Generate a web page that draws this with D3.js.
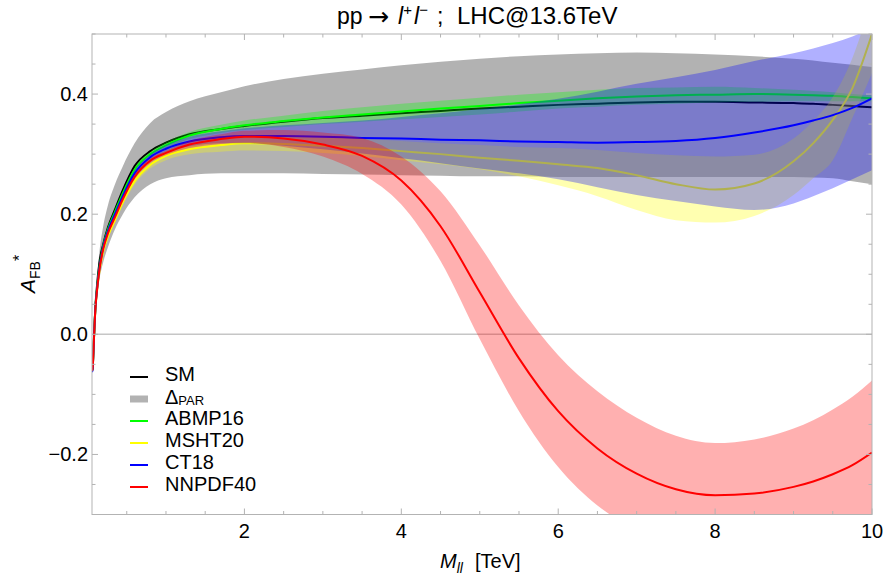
<!DOCTYPE html>
<html>
<head>
<meta charset="utf-8">
<script src="https://cdn.jsdelivr.net/npm/d3@7"></script>
<style>
  html, body { margin: 0; padding: 0; background: #fff; }
  svg { display: block; font-family: "Liberation Sans", Arial, Helvetica, sans-serif; }
</style>
</head>
<body>
<svg id="chart" width="895" height="576"></svg>
<script>
// Dilepton invariant mass grid [TeV]
const mass = [0.057, 0.064, 0.072, 0.083, 0.1, 0.12, 0.15, 0.2, 0.26, 0.35, 0.45, 0.6, 0.8, 1.0, 1.3, 1.7,
  2.0, 2.5, 3.0, 3.5, 4.0, 4.5, 5.0, 5.5, 6.0, 6.5, 7.0, 7.5, 8.0, 8.5, 9.0, 9.25, 9.5, 9.75, 10.0];

// Standard Model A_FB*
const smCentral = [-0.035, -0.060, -0.038, -0.002, 0.045, 0.080, 0.118, 0.150, 0.178, 0.208, 0.240, 0.280, 0.305, 0.319, 0.333, 0.342,
  0.347, 0.354, 0.360, 0.364, 0.368, 0.372, 0.376, 0.379, 0.382, 0.384, 0.386, 0.387, 0.387, 0.386, 0.385, 0.384, 0.382, 0.380, 0.378];
// Delta_PAR envelope
const parLow = [-0.035, -0.060, -0.040, -0.008, 0.036, 0.062, 0.090, 0.120, 0.145, 0.175, 0.200, 0.228, 0.250, 0.260, 0.265, 0.268,
  0.268, 0.268, 0.267, 0.266, 0.265, 0.264, 0.263, 0.263, 0.262, 0.262, 0.262, 0.262, 0.262, 0.262, 0.262, 0.261, 0.260, 0.255, 0.250];
const parHigh = [-0.035, -0.060, -0.036, 0.003, 0.055, 0.090, 0.135, 0.180, 0.215, 0.250, 0.280, 0.318, 0.352, 0.370, 0.388, 0.403,
  0.413, 0.425, 0.434, 0.441, 0.448, 0.454, 0.459, 0.463, 0.466, 0.468, 0.469, 0.468, 0.466, 0.463, 0.459, 0.456, 0.452, 0.449, 0.445];

// ABMP16
const abmpCentral = [-0.035, -0.060, -0.038, -0.003, 0.044, 0.075, 0.110, 0.147, 0.175, 0.204, 0.235, 0.274, 0.300, 0.315, 0.331, 0.342,
  0.348, 0.355, 0.361, 0.366, 0.371, 0.376, 0.380, 0.385, 0.389, 0.393, 0.396, 0.398, 0.399, 0.400, 0.399, 0.398, 0.397, 0.395, 0.393];
const abmpLow = [-0.035, -0.060, -0.039, -0.005, 0.041, 0.072, 0.107, 0.144, 0.172, 0.201, 0.232, 0.270, 0.296, 0.310, 0.325, 0.335,
  0.340, 0.345, 0.350, 0.354, 0.358, 0.362, 0.366, 0.371, 0.376, 0.379, 0.382, 0.384, 0.386, 0.387, 0.388, 0.388, 0.388, 0.388, 0.388];
const abmpHigh = [-0.035, -0.060, -0.037, -0.001, 0.047, 0.078, 0.113, 0.150, 0.178, 0.207, 0.238, 0.278, 0.304, 0.320, 0.337, 0.349,
  0.356, 0.364, 0.372, 0.378, 0.384, 0.389, 0.394, 0.399, 0.403, 0.407, 0.410, 0.411, 0.412, 0.410, 0.407, 0.405, 0.403, 0.400, 0.398];

// MSHT20
const mshtCentral = [-0.035, -0.060, -0.040, -0.006, 0.040, 0.070, 0.103, 0.138, 0.163, 0.190, 0.220, 0.255, 0.282, 0.297, 0.308, 0.315,
  0.318, 0.317, 0.314, 0.310, 0.305, 0.300, 0.294, 0.289, 0.283, 0.277, 0.265, 0.250, 0.241, 0.251, 0.288, 0.318, 0.357, 0.410, 0.500];
const mshtLow = [-0.035, -0.060, -0.041, -0.008, 0.037, 0.067, 0.100, 0.135, 0.160, 0.186, 0.215, 0.249, 0.276, 0.290, 0.300, 0.304,
  0.306, 0.305, 0.302, 0.297, 0.290, 0.283, 0.275, 0.263, 0.248, 0.230, 0.207, 0.190, 0.186, 0.197, 0.232, 0.260, 0.290, 0.360, 0.435];
const mshtHigh = [-0.035, -0.060, -0.039, -0.004, 0.043, 0.073, 0.106, 0.141, 0.166, 0.194, 0.225, 0.261, 0.288, 0.305, 0.317, 0.326,
  0.330, 0.330, 0.328, 0.325, 0.322, 0.318, 0.315, 0.312, 0.310, 0.307, 0.302, 0.298, 0.296, 0.299, 0.326, 0.355, 0.395, 0.460, 0.560];

// CT18
const ctCentral = [-0.035, -0.062, -0.040, -0.004, 0.043, 0.073, 0.108, 0.145, 0.172, 0.200, 0.230, 0.268, 0.295, 0.309, 0.321, 0.328,
  0.330, 0.330, 0.329, 0.327, 0.326, 0.324, 0.323, 0.321, 0.320, 0.319, 0.320, 0.322, 0.327, 0.336, 0.348, 0.356, 0.365, 0.377, 0.393];
const ctLow = [-0.035, -0.062, -0.041, -0.006, 0.040, 0.070, 0.105, 0.141, 0.168, 0.196, 0.225, 0.263, 0.290, 0.303, 0.313, 0.318,
  0.318, 0.314, 0.308, 0.301, 0.293, 0.285, 0.276, 0.268, 0.258, 0.245, 0.232, 0.222, 0.213, 0.207, 0.218, 0.230, 0.243, 0.258, 0.273];
const ctHigh = [-0.035, -0.062, -0.039, -0.002, 0.046, 0.076, 0.111, 0.149, 0.176, 0.204, 0.235, 0.273, 0.300, 0.315, 0.329, 0.338,
  0.343, 0.348, 0.352, 0.356, 0.362, 0.368, 0.375, 0.383, 0.392, 0.404, 0.417, 0.428, 0.440, 0.455, 0.468, 0.476, 0.485, 0.496, 0.510];

// NNPDF40
const nnpdfCentral = [-0.035, -0.060, -0.040, -0.005, 0.042, 0.072, 0.106, 0.142, 0.168, 0.195, 0.225, 0.262, 0.289, 0.302, 0.316, 0.325,
  0.329, 0.326, 0.316, 0.297, 0.256, 0.180, 0.070, -0.040, -0.128, -0.190, -0.232, -0.258, -0.268, -0.265, -0.254, -0.245, -0.233, -0.218, -0.197];
const nnpdfLow = [-0.035, -0.060, -0.041, -0.007, 0.039, 0.069, 0.103, 0.139, 0.165, 0.192, 0.221, 0.258, 0.285, 0.298, 0.310, 0.317,
  0.319, 0.312, 0.296, 0.267, 0.216, 0.122, -0.008, -0.128, -0.221, -0.285, -0.325, -0.347, -0.355, -0.355, -0.351, -0.347, -0.341, -0.332, -0.317];
const nnpdfHigh = [-0.035, -0.060, -0.039, -0.003, 0.045, 0.075, 0.109, 0.145, 0.171, 0.198, 0.229, 0.266, 0.293, 0.306, 0.322, 0.333,
  0.339, 0.340, 0.336, 0.327, 0.296, 0.238, 0.148, 0.048, -0.035, -0.095, -0.139, -0.169, -0.181, -0.175, -0.157, -0.143, -0.125, -0.104, -0.077];

// Axis ticks
const xMajorTicks = [2, 4, 6, 8, 10];
const xMinorTicks = [0.5, 1, 1.5, 2.5, 3, 3.5, 4.5, 5, 5.5, 6.5, 7, 7.5, 8.5, 9, 9.5];
const yMajorTicks = [-0.2, 0.0, 0.2, 0.4];
const yMinorTicks = [-0.3, -0.25, -0.15, -0.1, -0.05, 0.05, 0.1, 0.15, 0.25, 0.3, 0.35, 0.45, 0.5];
const yTickLabels = ["\u22120.2", "0.0", "0.2", "0.4"];

// Series styling and legend order
const series = [
  { name: "ABMP16", line: "#00ff00", band: "rgba(0,255,0,0.31)", c: abmpCentral, lo: abmpLow, hi: abmpHigh },
  { name: "MSHT20", line: "#ffff00", band: "rgba(255,255,0,0.31)", c: mshtCentral, lo: mshtLow, hi: mshtHigh },
  { name: "CT18", line: "#0000ff", band: "rgba(0,0,255,0.31)", c: ctCentral, lo: ctLow, hi: ctHigh },
  { name: "NNPDF40", line: "#ff0000", band: "rgba(255,0,0,0.31)", c: nnpdfCentral, lo: nnpdfLow, hi: nnpdfHigh }
];

const svg = d3.select("#chart");
const plot = { left: 92, right: 872, top: 34, bottom: 514.5 };
const frameColor = "#b3b3b3";

const x = d3.scaleLinear().domain([0.057, 10]).range([plot.left, plot.right]);
const y = d3.scaleLinear().domain([-0.3, 0.5]).range([plot.bottom, plot.top]);

svg.append("defs").append("clipPath").attr("id", "plotClip")
  .append("rect")
  .attr("x", plot.left).attr("y", plot.top)
  .attr("width", plot.right - plot.left).attr("height", plot.bottom - plot.top);

const g = svg.append("g").attr("clip-path", "url(#plotClip)");

// zero reference line
g.append("line")
  .attr("x1", plot.left).attr("x2", plot.right)
  .attr("y1", y(0)).attr("y2", y(0))
  .attr("stroke", "#c6c6c6").attr("stroke-width", 1.6);

const band = (lo, hi) => d3.area()
  .x((d, i) => x(mass[i]))
  .y0((d, i) => y(lo[i]))
  .y1((d, i) => y(hi[i]))
  .curve(d3.curveMonotoneX)(mass);

const curve = vals => d3.line()
  .x((d, i) => x(mass[i]))
  .y((d, i) => y(vals[i]))
  .curve(d3.curveMonotoneX)(mass);

// Delta_PAR band and SM curve
g.append("path").attr("d", band(parLow, parHigh)).attr("fill", "rgba(0,0,0,0.3)");
g.append("path").attr("d", curve(smCentral)).attr("fill", "none")
  .attr("stroke", "#000").attr("stroke-width", 2);

// PDF sets: band followed by its central curve
series.forEach(s => {
  g.append("path").attr("d", band(s.lo, s.hi)).attr("fill", s.band);
  g.append("path").attr("d", curve(s.c)).attr("fill", "none")
    .attr("stroke", s.line).attr("stroke-width", 2);
});

// frame
svg.append("rect")
  .attr("x", plot.left).attr("y", plot.top)
  .attr("width", plot.right - plot.left).attr("height", plot.bottom - plot.top)
  .attr("fill", "none").attr("stroke", frameColor).attr("stroke-width", 1);

// inward ticks on all four sides
const ticks = svg.append("g").attr("stroke", frameColor).attr("stroke-width", 1);
const majorLen = 6, minorLen = 3.5;
[[xMajorTicks, majorLen], [xMinorTicks, minorLen]].forEach(([vals, len]) => {
  vals.forEach(v => {
    const px = x(v);
    ticks.append("line").attr("x1", px).attr("x2", px).attr("y1", plot.bottom).attr("y2", plot.bottom - len);
    ticks.append("line").attr("x1", px).attr("x2", px).attr("y1", plot.top).attr("y2", plot.top + len);
  });
});
[[yMajorTicks, majorLen], [yMinorTicks, minorLen]].forEach(([vals, len]) => {
  vals.forEach(v => {
    const py = y(v);
    ticks.append("line").attr("x1", plot.left).attr("x2", plot.left + len).attr("y1", py).attr("y2", py);
    ticks.append("line").attr("x1", plot.right).attr("x2", plot.right - len).attr("y1", py).attr("y2", py);
  });
});

// tick labels
const labelSize = 20;
svg.append("g").selectAll("text").data(xMajorTicks).join("text")
  .attr("x", d => x(d)).attr("y", 538)
  .attr("text-anchor", "middle").attr("font-size", labelSize)
  .text(d => d);
svg.append("g").selectAll("text").data(yMajorTicks).join("text")
  .attr("x", 88).attr("y", d => y(d) + 7)
  .attr("text-anchor", "end").attr("font-size", labelSize)
  .text((d, i) => yTickLabels[i]);

// title: pp -> l+ l- ; LHC@13.6TeV
const title = svg.append("text").attr("y", 24).attr("font-size", 23);
title.append("tspan").attr("x", 337).text("pp");
title.append("tspan").attr("x", 368).attr("font-family", "'DejaVu Sans', sans-serif").attr("font-size", 25).attr("dy", 1).text("\u2192");
title.append("tspan").attr("x", 398).attr("dy", -1).attr("font-style", "italic").text("l");
title.append("tspan").attr("font-size", 15).attr("dy", -9).text("+");
title.append("tspan").attr("x", 414).attr("font-style", "italic").attr("dy", 9).text("l");
title.append("tspan").attr("font-size", 15).attr("dy", -9).text("\u2212");
title.append("tspan").attr("x", 437).attr("dy", 9).text(";");
title.append("tspan").attr("x", 457).attr("font-size", 24).text("LHC@13.6TeV");

// x axis label
const xl = svg.append("text").attr("x", 440).attr("y", 568).attr("font-size", 20);
xl.append("tspan").attr("font-style", "italic").text("M");
xl.append("tspan").attr("font-style", "italic").attr("font-size", 14).attr("dy", 5).text("ll");
xl.append("tspan").attr("x", 475).attr("dy", -5).text("[TeV]");

// y axis label
const yl = svg.append("text")
  .attr("transform", "translate(35,293) rotate(-90)")
  .attr("font-size", 21);
yl.append("tspan").attr("font-style", "italic").text("A");
yl.append("tspan").attr("font-size", 14).attr("dy", 5).text("FB");
yl.append("tspan").attr("font-size", 16).attr("dy", -15).text("*");

// legend
const legend = svg.append("g");
const legendRows = [
  { name: "SM", kind: "line", color: "#000" },
  { name: "PAR", kind: "band", color: "rgba(0,0,0,0.3)" },
  ...series.map(s => ({ name: s.name, kind: "line", color: s.line }))
];
legendRows.forEach((r, i) => {
  const cy = 377 + i * 22;
  if (r.kind === "line") {
    legend.append("line").attr("x1", 130).attr("x2", 148).attr("y1", cy).attr("y2", cy)
      .attr("stroke", r.color).attr("stroke-width", 2);
  } else {
    legend.append("rect").attr("x", 130).attr("y", cy - 3.5).attr("width", 18).attr("height", 7)
      .attr("fill", r.color);
  }
  const t = legend.append("text").attr("x", 165).attr("font-size", 20);
  if (r.kind === "band") {
    t.attr("y", cy + 5);
    t.append("tspan").text("\u0394");
    t.append("tspan").attr("font-size", 13).attr("dy", 1).text(r.name);
  } else {
    t.attr("y", cy + 3.5).text(r.name);
  }
});
</script>
</body>
</html>
